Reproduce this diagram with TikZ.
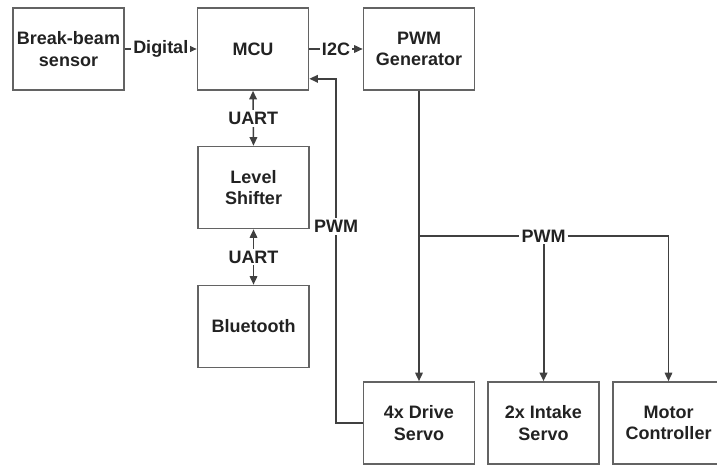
\documentclass[tikz,border=0pt]{standalone}
\usepackage{fontspec}
\setmainfont{Liberation Sans}
\usetikzlibrary{arrows.meta}
\definecolor{boxgray}{HTML}{636363}
\definecolor{linegray}{HTML}{404040}
\definecolor{txt}{HTML}{222222}
\begin{document}
\begin{tikzpicture}[x=1pt,y=-1pt,
  block/.style={draw=boxgray, line width=1.6pt, minimum width=111pt, minimum height=82pt,
    inner sep=0pt, align=center, text=txt, font=\bfseries\fontsize{18}{21.5}\selectfont},
  link/.style={draw=linegray, line width=1.6pt},
  tipend/.style={-{Triangle[length=8.5pt,width=7.5pt]}},
  tipboth/.style={{Triangle[length=8.5pt,width=7.5pt]}-{Triangle[length=8.5pt,width=7.5pt]}},
  lbl/.style={fill=white, inner sep=2pt, text=txt, font=\bfseries\fontsize{18}{21.5}\selectfont}
]
\useasboundingbox (0,0) rectangle (717,465);

% blocks
\node[block] (beam)   at (68.5,49)   {Break-beam\\sensor};
\node[block] (mcu)    at (253,49)    {MCU};
\node[block] (pwm)    at (419,49)    {PWM\\Generator};
\node[block] (level)  at (253.5,187.5) {Level\\Shifter};
\node[block] (bt)     at (253.5,326.5) {Bluetooth};
\node[block] (drive)  at (419,423)   {4x Drive\\Servo};
\node[block] (intake) at (543.5,423) {2x Intake\\Servo};
\node[block] (motor)  at (668.5,423) {Motor\\Controller};

% top row links
\draw[link,tipend] (beam.east) -- node[lbl]{Digital} (mcu.west);
\draw[link,tipend] (mcu.east) -- node[lbl]{I2C} (pwm.west);

% UART chain
\draw[link,tipboth] (mcu.south) -- node[lbl]{UART} (level.north);
\draw[link,tipboth] (level.south) -- node[lbl]{UART} (bt.north);

% feedback from drive servos to MCU
\coordinate (fbin) at ([yshift=12pt]mcu.south east);
\coordinate (fbbot) at (336,423);
\coordinate (fbtop) at (fbbot |- fbin);
\draw[link,tipend] (drive.west) -- (fbbot) -- node[lbl,pos=0.571]{PWM} (fbtop) -- (fbin);

% PWM distribution
\node[lbl] (pwmlbl) at (543.5,236) {PWM};
\coordinate (jl) at (pwm.south |- pwmlbl);
\coordinate (jr) at (motor.north |- pwmlbl);
\draw[link] (jl) -- (pwmlbl.west);
\draw[link] (pwmlbl.east) -- (jr);
\draw[link,tipend] (jr) -- (motor.north);
\draw[link,tipend] (pwm.south) -- (drive.north);
\draw[link,tipend,line width=2pt] (pwmlbl.south) -- (intake.north);
\end{tikzpicture}
\end{document}
